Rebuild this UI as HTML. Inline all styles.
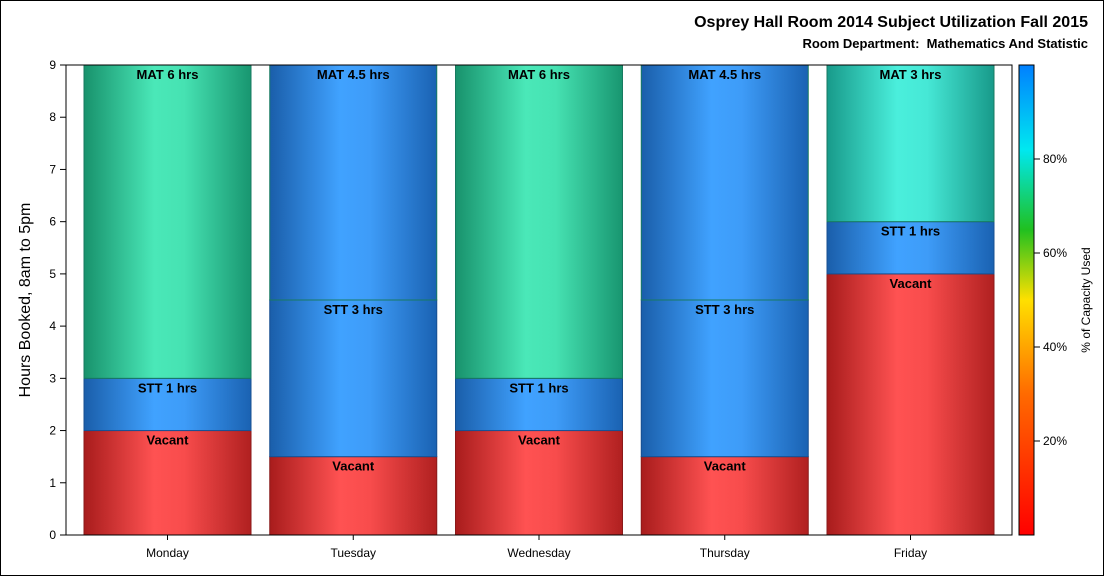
<!DOCTYPE html>
<html><head><meta charset="utf-8"><style>
body{margin:0;background:#fff}
svg{display:block;font-family:"Liberation Sans",Arial,sans-serif}
</style></head><body>
<svg id="c" width="1104" height="576">
<defs>
<linearGradient id="gV" x1="0" x2="1"><stop offset="0" stop-color="#a81c1c"/><stop offset="0.42" stop-color="#ff5252"/><stop offset="0.6" stop-color="#f84c4c"/><stop offset="1" stop-color="#b02020"/></linearGradient>
<linearGradient id="gS" x1="0" x2="1"><stop offset="0" stop-color="#1a5eaa"/><stop offset="0.42" stop-color="#40a2ff"/><stop offset="0.6" stop-color="#3e9cf8"/><stop offset="1" stop-color="#1a62b2"/></linearGradient>
<linearGradient id="gM" x1="0" x2="1"><stop offset="0" stop-color="#18926c"/><stop offset="0.42" stop-color="#4ae8b8"/><stop offset="0.6" stop-color="#46e2b2"/><stop offset="1" stop-color="#189670"/></linearGradient>
<linearGradient id="gC" x1="0" x2="1"><stop offset="0" stop-color="#189a8a"/><stop offset="0.42" stop-color="#4aefdc"/><stop offset="0.6" stop-color="#46e8d6"/><stop offset="1" stop-color="#189a8a"/></linearGradient>
<linearGradient id="gBar" x1="0" y1="1" x2="0" y2="0"><stop offset="0" stop-color="#ff0000"/><stop offset="0.3" stop-color="#ff6a00"/><stop offset="0.5" stop-color="#ffe000"/><stop offset="0.65" stop-color="#20c020"/><stop offset="0.82" stop-color="#00e8f0"/><stop offset="1" stop-color="#0080ff"/></linearGradient>
</defs>
<rect x="0.5" y="0.5" width="1103" height="575" fill="#fff" stroke="#000"/>
<text x="1088" y="27" text-anchor="end" font-size="16" font-weight="bold">Osprey Hall Room 2014 Subject Utilization Fall 2015</text>
<text x="1088" y="48" text-anchor="end" font-size="13" font-weight="bold">Room Department:&#160; Mathematics And Statistic</text>
<text transform="translate(30,300) rotate(-90)" text-anchor="middle" font-size="16">Hours Booked, 8am to 5pm</text>
<g id="plot"></g>
<rect x="1019" y="65" width="15" height="470" fill="url(#gBar)" stroke="#000"/>
<text transform="translate(1090,300) rotate(-90)" text-anchor="middle" font-size="12">% of Capacity Used</text>
</svg>
<script>
const days=["Monday","Tuesday","Wednesday","Thursday","Friday"];
const vacant=[2,1.5,2,1.5,5];
const stt=[1,3,1,3,1];
const mat=[6,4.5,6,4.5,3];
const matLabel=["MAT 6 hrs","MAT 4.5 hrs","MAT 6 hrs","MAT 4.5 hrs","MAT 3 hrs"];
const sttLabel=["STT 1 hrs","STT 3 hrs","STT 1 hrs","STT 3 hrs","STT 1 hrs"];
const matFill=["gM","gS","gM","gS","gC"];
const yTicks=[0,1,2,3,4,5,6,7,8,9];
const pctTicks=[20,40,60,80];
const L=66,R=1012,T=65,B=535,yMax=9;
const y=v=>B-(v/yMax)*(B-T);
const bw=185.75, c0=167.5;
const xc=i=>c0+i*bw;
const NS="http://www.w3.org/2000/svg";
const g=document.getElementById('plot');
const svg=document.getElementById('c');
function mk(tag,at,p){const e=document.createElementNS(NS,tag);for(const k in at)e.setAttribute(k,at[k]);(p||g).appendChild(e);return e;}
days.forEach((d,i)=>{
  const x0=xc(i)-83.5;
  const segs=[[0,vacant[i],"url(#gV)","Vacant","#8a1a1a"],[vacant[i],vacant[i]+stt[i],"url(#gS)",sttLabel[i],"#174f90"],[vacant[i]+stt[i],vacant[i]+stt[i]+mat[i],"url(#"+matFill[i]+")",matLabel[i],"#177a60"]];
  segs.forEach((s,j)=>{
    const r=mk('rect',{x:x0,y:y(s[1]),width:167,height:y(s[0])-y(s[1]),fill:s[2],stroke:s[4],'stroke-width':1});
    
    
    const t=mk('text',{x:x0+83.5,y:y(s[1])+14,'text-anchor':'middle','font-size':13,'font-weight':'bold'});
    t.textContent=s[3];
    
    
  });
  const xl=mk('text',{x:xc(i),y:557,'text-anchor':'middle','font-size':12});
  xl.textContent=d;
  
  
  mk('line',{x1:xc(i),x2:xc(i),y1:B,y2:B+5,stroke:'#000'});
});
const box=mk('rect',{x:L,y:T,width:R-L,height:B-T,fill:'none',stroke:'#000'});


yTicks.forEach(v=>{
  mk('line',{x1:L-6,x2:L,y1:y(v),y2:y(v),stroke:'#000'});
  const t=mk('text',{x:L-10,y:y(v)+4,'text-anchor':'end','font-size':12});
  t.textContent=v;
  
  
});
pctTicks.forEach(p=>{
  const yy=B-(p/100)*(B-T);
  mk('line',{x1:1034,x2:1040,y1:yy,y2:yy,stroke:'#000'},svg);
  const t=mk('text',{x:1043,y:yy+4,'font-size':12},svg);
  t.textContent=p+'%';
  
  
});
</script>
</body></html>
